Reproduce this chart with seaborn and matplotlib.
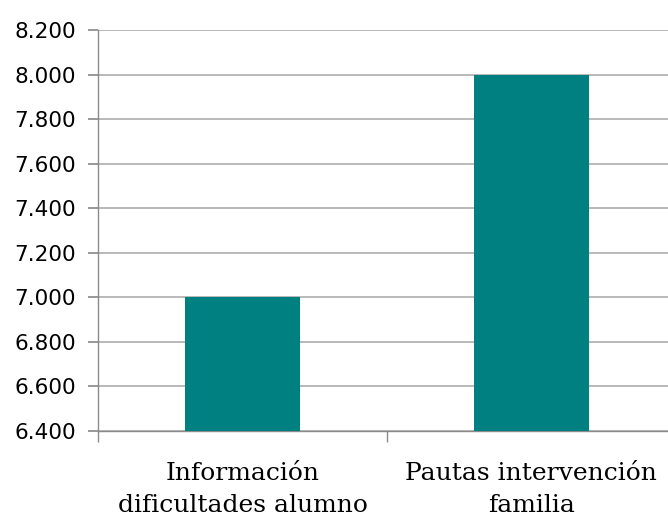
import matplotlib
matplotlib.use("Agg")
import matplotlib.pyplot as plt
import seaborn as sns
import pandas as pd
from matplotlib.ticker import FuncFormatter, FixedLocator

categories = ["Información\ndificultades alumno", "Pautas intervención\nfamilia"]
values = [7000, 8000]
yticks = [6400, 6600, 6800, 7000, 7200, 7400, 7600, 7800, 8000, 8200]

sns.set_theme(style="white")
df = pd.DataFrame({"cat": categories, "val": values})

fig = plt.figure(figsize=(6.68, 5.18), dpi=100)
ax = fig.add_axes([0.1467, 0.168, 0.865, 0.774])
sns.barplot(data=df, x="cat", y="val", color="#008080", width=0.40,
            saturation=1, linewidth=0, ax=ax, zorder=3)
ax.set_ylim(6400, 8200)
ax.set_xlim(-0.5, 1.5)
ax.set_yticks(yticks)
ax.yaxis.set_major_formatter(FuncFormatter(lambda v, p: f"{int(v):,}".replace(",", ".")))
ax.grid(axis="y", color="#b3b3b3", linewidth=1.3, zorder=0)
ax.set_xlabel("")
ax.set_ylabel("")
for s in ["top", "right"]:
    ax.spines[s].set_visible(False)
for s in ["left", "bottom"]:
    ax.spines[s].set_color("#8c8c8c")
    ax.spines[s].set_linewidth(1.0)
ax.tick_params(axis="y", left=True, length=7, color="#8c8c8c", labelsize=15.5,
               labelcolor="#000000", pad=9)
ax.tick_params(axis="x", which="major", length=0, labelsize=18, pad=22)
ax.xaxis.set_minor_locator(FixedLocator([-0.5, 0.5, 1.5]))
ax.tick_params(axis="x", which="minor", bottom=True, length=8, color="#8c8c8c")
for lab in ax.get_xticklabels():
    lab.set_family("DejaVu Serif")
    lab.set_color("#000000")
    lab.set_linespacing(1.5)
for lab in ax.get_yticklabels():
    lab.set_family("DejaVu Sans")
fig.savefig("out.png", dpi=100)
